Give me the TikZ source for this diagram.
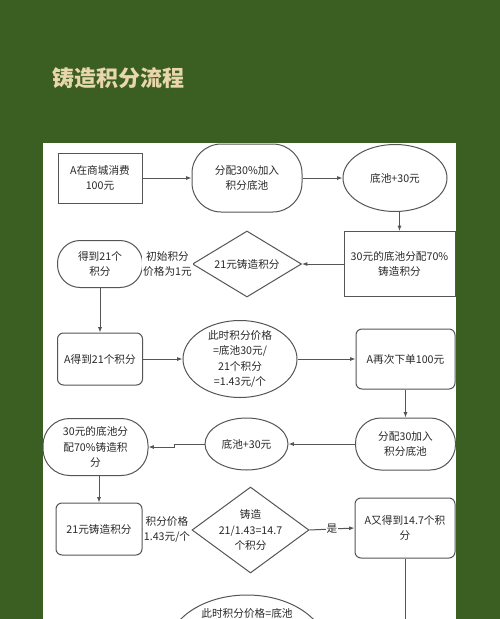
\documentclass[tikz,border=0pt]{standalone}
\usepackage{fontspec}
\setmainfont{Noto Sans CJK SC}
\usetikzlibrary{shapes.geometric,arrows.meta}

\definecolor{bggreen}{RGB}{59,94,34}
\definecolor{titlegold}{RGB}{234,214,174}
\definecolor{linegray}{RGB}{85,85,85}
\definecolor{textgray}{RGB}{40,40,40}

\tikzset{every picture/.style={line width=0.75pt}}
\tikzset{
  flowtext/.style={font=\fontsize{8}{11.5}\selectfont, text=textgray, align=center, inner sep=0.75pt},
  sqbox/.style={flowtext, draw=linegray, rectangle},
  rndbox/.style={flowtext, draw=linegray, rectangle, rounded corners=4.5pt},
  pill/.style={flowtext, draw=linegray, rectangle, rounded corners=#1},
  oval/.style={flowtext, draw=linegray, ellipse},
  decide/.style={flowtext, draw=linegray, diamond, inner sep=0pt},
  flow/.style={draw=linegray, -{Latex[length=4pt,width=3pt]}},
  flowlabel/.style={flowtext, fill=white},
}

\begin{document}
\begin{tikzpicture}[x=0.75pt,y=0.75pt,yscale=-1,xscale=1]
\useasboundingbox (0,0) rectangle (500,619);
\clip (0,0) rectangle (500,619);

%Background and panel
\fill [bggreen] (0,0) rectangle (500,619);
\fill [white] (43,143) rectangle (456,630);

% Title
\node [anchor=west, inner sep=0pt, text=titlegold, font=\bfseries\fontsize{16.5}{20}\selectfont] (title) at (52,78) {铸造积分流程};

%Row 1
\node [sqbox, minimum width=63pt, minimum height=37.5pt] (n1) at (100,178) {A在商城消费\\100元};
\node [pill=22pt, minimum width=82.5pt, minimum height=51pt] (n2) at (247,178) {分配30\%加入\\积分底池};
\node [oval, minimum width=78pt, minimum height=50.25pt] (n3) at (395,178) {底池+30元};

%Row 2
\node [sqbox, minimum width=83.25pt, minimum height=48.75pt] (n4) at (399.5,264) {30元的底池分配70\%\\铸造积分};
\node [decide, aspect=1.65, minimum width=81.75pt, minimum height=49.5pt] (n5) at (247,264) {21元铸造积分};
\node [pill=17pt, minimum width=63.75pt, minimum height=35.25pt] (n6) at (100,264) {得到21个\\积分};

%Row 3
\node [rndbox, minimum width=63.75pt, minimum height=39pt] (n7) at (100,359) {A得到21个积分};
\node [oval, inner ysep=-1.5pt, minimum width=85.5pt, minimum height=57.75pt] (n8) at (240,359) {此时积分价格\\=底池30元/\\21个积分\\=1.43元/个};
\node [rndbox, minimum width=74.25pt, minimum height=45pt] (n9) at (405.5,359) {A再次下单100元};

%Row 4
\node [pill=19pt, minimum width=75pt, minimum height=39pt] (n10) at (405.5,444) {分配30加入\\积分底池};
\node [oval, minimum width=62.25pt, minimum height=39pt] (n11) at (246.5,444) {底池+30元};
\node [pill=20pt, minimum width=78.75pt, minimum height=42.75pt] (n12) at (95.5,447) {30元的底池分\\配70\%铸造积\\分};

%Row 5
\node [rndbox, minimum width=64.5pt, minimum height=39pt] (n13) at (99,529) {21元铸造积分};
\node [decide, aspect=1.36, minimum width=87.75pt, minimum height=64.5pt] (n14) at (250.5,530) {};
\node [flowtext] (n14t) at (n14.center) {铸造\\21/1.43=14.7\\个积分};
\node [rndbox, minimum width=75pt, minimum height=45pt] (n15) at (405,528) {A又得到14.7个积\\分};

%Row 6 (cut off)
\node [oval, minimum width=120pt, minimum height=82.5pt] (n16) at (247,650) {};
\node [flowtext] (n16t) at (247,613) {此时积分价格=底池};
\coordinate (n15end) at (405,640);

% Connectors
\draw [flow] (n1.east) -- (n2.west);
\draw [flow] (n2.east) -- (n3.west);
\draw [flow] (n3.south -| n4.north) -- (n4.north);
\draw [flow] (n4.west) -- (n5.east);
\draw [flow] (n5.west) -- node [flowlabel] (lab1) {初始积分\\价格为1元} (n6.east);
\draw [flow] (n6.south) -- (n7.north);
\draw [flow] (n7.east) -- (n8.west);
\draw [flow] (n8.east) -- (n9.west);
\draw [flow] (n9.south) -- (n10.north);
\draw [flow] (n10.west) -- (n11.east);
\draw [flow] (n11.west) -- ++(-30,0) |- (n12.east);
\draw [flow] (n12.south -| n13.north) -- (n13.north);
\draw [flow] (n13.east) -- node [flowlabel] (lab2) {积分价格\\1.43元/个} (n14.west);
\draw [flow] (n14.east) -- node [flowlabel] (lab3) {是} (n15.west);
\draw [flow] (n15.south) -- (n15end);

\end{tikzpicture}
\end{document}
